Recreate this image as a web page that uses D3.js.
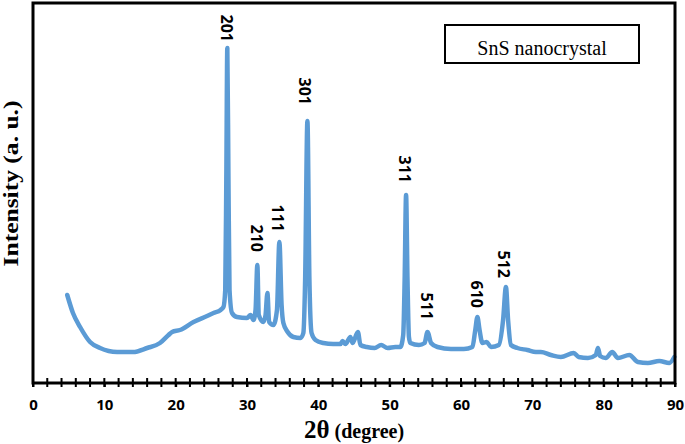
<!DOCTYPE html>
<html>
<script src='https://d3js.org/d3.v7.min.js'></script>
<style>
 body {margin:0; background:#fff;}
 .tick text {font-family:'Open Sans'; font-weight:700; font-size:15px;}
</style>
<body onload='init()'>
<svg width=685 height=444></svg>
<script>

// 2theta (degree) and intensity (a.u.)
var twoTheta = [4.8,5.6,6.6,8.0,9.4,11.8,14.0,16.0,17.8,19.0,19.5,20.6,22.5,24.4,25.3,26.3,26.7,
 26.95,27.1,27.24,27.4,27.55,27.9,28.6,30.0,30.5,30.9,31.2,31.45,31.65,32.3,32.6,32.86,33.1,33.7,
 34.2,34.54,34.85,35.1,35.7,36.5,37.5,37.9,38.15,38.47,38.75,39.05,39.6,40.7,42.1,43.1,43.4,43.8,
 44.5,44.8,45.55,45.9,46.8,47.9,48.8,49.7,50.8,51.5,51.9,52.1,52.3,52.5,52.7,52.9,54.1,54.9,55.3,
 55.8,56.7,58.6,60.4,61.6,62.0,62.3,62.6,63.0,63.6,64.2,65.3,65.9,66.3,66.6,67.0,67.9,69.3,70.5,
 71.2,72.6,74.0,75.8,76.5,77.8,78.9,79.2,79.5,80.3,81.2,82.0,83.6,84.8,86.2,87.8,89.2,89.9];
var intensity = [880,700,560,410,350,310,310,350,400,480,510,530,610,670,700,730,760,
 930,2030,3350,2030,930,700,660,650,680,630,730,1180,680,610,680,900,610,580,
 730,1410,780,600,510,460,450,500,1030,2620,1030,500,430,400,390,390,420,390,
 460,400,510,380,360,350,380,350,360,360,480,1030,1880,1030,460,400,380,400,510,
 400,360,340,340,360,530,660,530,400,410,360,380,630,960,630,380,350,330,310,
 310,280,260,300,260,250,280,350,270,250,310,250,280,210,200,220,200,260];

// peak labels (hkl), their 2theta and where the label ends (a.u.)
var hkl = ['201','210','111','301','311','511','610','512'];
var hklTheta = [27.24,31.45,34.40,38.19,52.09,55.18,62.20,65.99];
var hklLevel = [3410,1310,1510,2780,2000,630,750,1050];

var xTicks = [0,10,20,30,40,50,60,70,80,90];

function init() {
 var svg = d3.select('svg');
 var left = 33, right = 675, top = 3, bottom = 383;

 var x = d3.scaleLinear().domain([0,90]).range([left,right]);
 var y = d3.scaleLinear().domain([0,3800]).range([bottom,top]);

 var pts = twoTheta.map(function(t,i){ return [t, intensity[i]]; });

 var line = d3.line()
  .curve(d3.curveMonotoneX)
  .x(function(d){ return x(d[0]); })
  .y(function(d){ return y(d[1]); });

 svg.append('path')
  .datum(pts)
  .attr('d', line)
  .attr('fill','none')
  .attr('stroke','#5b9bd5')
  .attr('stroke-width',4.5)
  .attr('stroke-linejoin','round')
  .attr('stroke-linecap','round');

 // frame
 svg.append('rect')
  .attr('x',left).attr('y',top)
  .attr('width',right-left).attr('height',bottom-top)
  .attr('fill','none').attr('stroke','#000').attr('stroke-width',3);

 // minor ticks every 2 degrees
 svg.append('g')
  .selectAll('line')
  .data(d3.range(0,91,2))
  .enter()
  .append('line')
   .attr('x1',function(d){ return x(d); })
   .attr('x2',function(d){ return x(d); })
   .attr('y1',bottom-5).attr('y2',bottom+4)
   .attr('stroke','#000').attr('stroke-width',2);

 var ax = svg.append('g')
  .attr('transform','translate(0,'+bottom+')')
  .call(d3.axisBottom(x).tickValues(xTicks).tickSize(4).tickPadding(12).tickFormat(d3.format('d')));
 ax.select('.domain').remove();
 ax.selectAll('.tick line').attr('stroke','#000').attr('stroke-width',2);
 ax.selectAll('.tick text').attr('fill','#000');

 // axis titles
 var xt = svg.append('text')
  .attr('x',(left+right)/2).attr('y',438)
  .attr('text-anchor','middle')
  .style('font-family','"Liberation Serif", "Times New Roman", serif')
  .style('font-weight','700');
 xt.append('tspan').attr('font-size',25).text('2θ');
 xt.append('tspan').attr('font-size',20).text(' (degree)');

 svg.append('text')
  .attr('transform','translate(18,183.5) rotate(-90)')
  .attr('text-anchor','middle')
  .attr('textLength',166)
  .attr('lengthAdjust','spacingAndGlyphs')
  .style('font-family','"Liberation Serif", "Times New Roman", serif')
  .style('font-weight','700')
  .style('font-size','21px')
  .text('Intensity (a. u.)');

 // peak labels
 svg.append('g')
  .selectAll('text')
  .data(hkl)
  .enter()
  .append('text')
   .attr('transform',function(d,i){ return 'translate('+x(hklTheta[i])+','+y(hklLevel[i])+') rotate(90)'; })
   .attr('text-anchor','end')
   .attr('dominant-baseline','central')
   .style('font-family','"Open Sans"')
   .style('font-weight','700')
   .style('font-size','16px')
   .text(function(d){ return d; });

 // legend box
 svg.append('rect')
  .attr('x',445).attr('y',25).attr('width',194).attr('height',38)
  .attr('fill','#fff').attr('stroke','#000').attr('stroke-width',2);
 svg.append('text')
  .attr('x',542).attr('y',55)
  .attr('text-anchor','middle')
  .style('font-family','"Liberation Serif", "Times New Roman", serif')
  .style('font-size','20px')
  .text('SnS nanocrystal');
}

</script>
</body>
</html>
